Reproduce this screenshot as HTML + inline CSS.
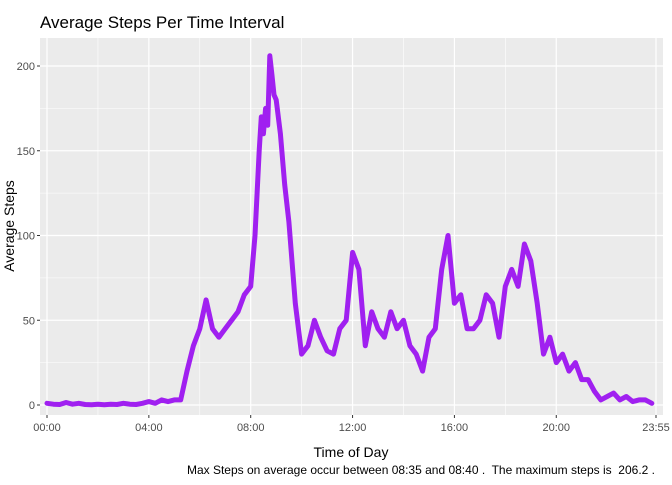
<!DOCTYPE html>
<html><head><meta charset="utf-8"><style>
body{margin:0;background:#fff;}
svg text{font-family:"Liberation Sans",Arial,sans-serif;}
</style></head><body>
<svg id="c" width="672" height="480" xmlns="http://www.w3.org/2000/svg">
<text x="40" y="28" font-size="17" fill="#000">Average Steps Per Time Interval</text>
<rect x="40" y="38" width="623" height="377" fill="#ebebeb"/>
<g id="grid"></g>
<g id="axes"></g>
<path id="line" fill="none" stroke="#a020f0" stroke-width="5" stroke-linejoin="round" stroke-linecap="round"/>
<text x="351" y="457" font-size="14" text-anchor="middle" fill="#000">Time of Day</text>
<text transform="translate(14,226) rotate(-90)" font-size="14" text-anchor="middle" fill="#000">Average Steps</text>
<text x="655" y="474" font-size="12" text-anchor="end" fill="#000" style="white-space:pre" xml:space="preserve">Max Steps on average occur between 08:35 and 08:40 .  The maximum steps is  206.2 .</text>
</svg>
<script>
const minutes=[0,15,30,45,60,75,90,105,120,135,150,165,180,195,210,225,240,255,270,285,
300,315,330,345,360,375,390,405,420,435,450,465,480,490,500,505,510,515,520,525,530,535,540,550,560,570,585,600,615,630,645,660,675,690,705,
720,735,750,765,780,795,810,825,840,855,870,885,900,915,930,945,960,975,990,1005,1020,1035,1050,1065,1080,1095,1110,1125,
1140,1155,1170,1185,1200,1215,1230,1245,1260,1275,1290,1305,1320,1335,1350,1365,1380,1395,1410,1425,1435];
const steps=[1,0.5,0.3,1.5,0.5,1,0.3,0.2,0.5,0.2,0.5,0.3,1,0.5,0.3,1,2,1,3,2,
3,3,20,35,45,62,45,40,45,50,55,65,70,100,150,170,160,175,165,206,195,183,180,160,130,108,60,30,35,50,40,32,30,45,50,
90,80,35,55,45,40,55,45,50,35,30,20,40,45,80,100,60,65,45,45,50,65,60,40,70,80,70,95,
85,60,30,40,25,30,20,25,15,15,8,3,5,7,3,5,2,3,3,1];
const yTicks=[0,50,100,150,200];
const xTickMin=[0,240,480,720,960,1200,1435];
const xTickLabels=["00:00","04:00","08:00","12:00","16:00","20:00","23:55"];
const X=m=>47+m*609/1435, Y=v=>405-v*339/200;
const ns="http://www.w3.org/2000/svg";
const grid=document.getElementById('grid'),axes=document.getElementById('axes');
function ln(p,x1,y1,x2,y2,w,c){const l=document.createElementNS(ns,'line');l.setAttribute('x1',x1);l.setAttribute('y1',y1);l.setAttribute('x2',x2);l.setAttribute('y2',y2);l.setAttribute('stroke',c);l.setAttribute('stroke-width',w);p.appendChild(l);return l;}
for(let i=0;i<yTicks.length-1;i++){const v=(yTicks[i]+yTicks[i+1])/2;
const l=ln(grid,40,Y(v),663,Y(v),0.6,'#fff');

}
for(let i=0;i<xTickMin.length-2;i++){const m=(xTickMin[i]+xTickMin[i+1])/2;
const l=ln(grid,X(m),38,X(m),415,0.6,'#fff');

}
yTicks.forEach(v=>{const l=ln(grid,40,Y(v),663,Y(v),1.2,'#fff');


const t=ln(axes,37,Y(v),40,Y(v),1,'#333');


const tx=document.createElementNS(ns,'text');tx.setAttribute('x',35);tx.setAttribute('y',Y(v)+4);tx.setAttribute('text-anchor','end');tx.setAttribute('font-size','11');tx.setAttribute('fill','#4d4d4d');tx.textContent=v;


axes.appendChild(tx);});
xTickMin.forEach((m,i)=>{const l=ln(grid,X(m),38,X(m),415,1.2,'#fff');


const t=ln(axes,X(m),415,X(m),418,1,'#333');


const tx=document.createElementNS(ns,'text');tx.setAttribute('x',X(m));tx.setAttribute('y',431);tx.setAttribute('text-anchor','middle');tx.setAttribute('font-size','11');tx.setAttribute('fill','#4d4d4d');tx.textContent=xTickLabels[i];


axes.appendChild(tx);});
document.getElementById('line').setAttribute('d',minutes.map((m,i)=>(i?'L':'M')+X(m).toFixed(1)+','+Y(steps[i]).toFixed(1)).join(''));
</script>
</body></html>
